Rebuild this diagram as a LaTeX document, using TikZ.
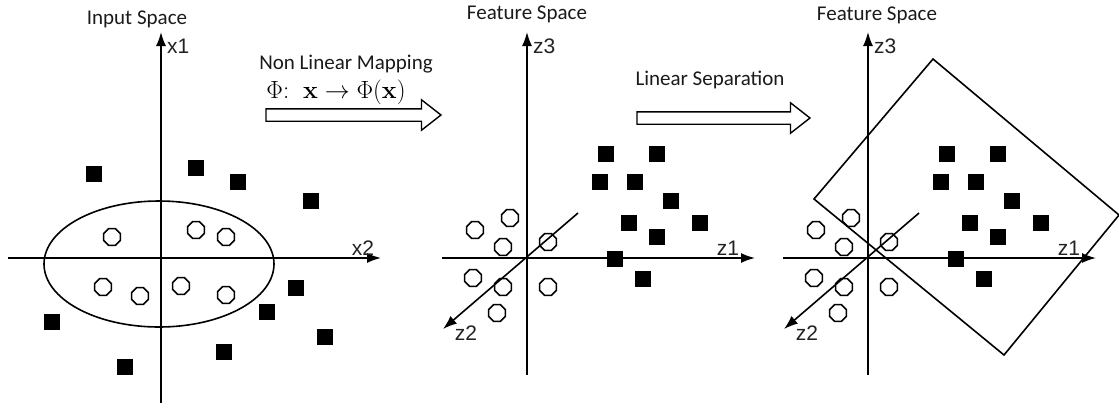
\documentclass[tikz,border=0pt]{standalone}
\usepackage[no-math]{fontspec}
\setmainfont{Carlito}
\newfontfamily\axisfont{Liberation Sans}
\usepackage{tikz}
\usetikzlibrary{shapes.geometric, shapes.arrows, arrows.meta, positioning}
\definecolor{svmtext}{HTML}{1A1A1A}
\definecolor{svmaxis}{HTML}{222222}

\begin{document}
\begin{tikzpicture}[
    x=1pt, y=-1pt,
    axis/.style={line width=1.6pt, draw=black, -{Latex[length=14pt, width=10pt]}},
    pointsq/.style={rectangle, fill=black, minimum size=16pt, inner sep=0pt},
    pointcirc/.style={regular polygon, regular polygon sides=8, draw=black, line width=1.5pt,
                      minimum size=18pt, inner sep=0pt},
    spacelabel/.style={font=\fontsize{21}{24}\selectfont, text=svmtext, inner sep=0pt},
    axislabel/.style={font=\axisfont\fontsize{21}{24}\selectfont, text=svmaxis, inner sep=0pt},
    maparrow/.style={single arrow, draw=black, line width=1.4pt, fill=white, inner xsep=0pt,
                     inner ysep=5.5pt, single arrow head extend=9pt, single arrow tip angle=76,
                     minimum height=#1},
]
\useasboundingbox (0,0) rectangle (1119,408);

% Input space
\coordinate (x1bot) at (161,403);
\coordinate (x1top) at (161,32);
\coordinate (x2left) at (8,258);
\coordinate (x2right) at (381,258);
\draw[axis] (x1bot) -- (x1top);
\draw[axis] (x2left) -- (x2right);
\node[axislabel, anchor=west] (lblx1) at (167,46) {x1};
\node[axislabel] (lblx2) at (363,248) {x2};
\node[spacelabel] (inputlbl) at (137,19) {Input Space};

\node[ellipse, draw=black, line width=1.6pt, minimum width=230pt, minimum height=126pt] (boundary) at (159,264) {};

\foreach \cx/\cy [count=\i] in {112/237, 196/230, 226/237, 103/287, 140/296, 181/286, 226/295}
    \node[pointcirc] (inc\i) at (\cx,\cy) {};
\foreach \sx/\sy [count=\i] in {94/174, 196/168, 238/182, 311/201, 296/288, 267/312, 325/337, 224/352, 125/367, 52/322}
    \node[pointsq] (insq\i) at (\sx,\sy) {};

% Mapping arrows
\node[spacelabel] (maplbl) at (346,64) {Non Linear Mapping};
\node[font=\fontsize{23}{25}\selectfont, inner sep=0pt] (phimap) at (336,92) {$\Phi{:}\;\;\mathbf{x}\rightarrow\Phi(\mathbf{x})$};
\node[maparrow=175pt] (maparrow1) at (349.5,115) {};
\node[spacelabel] (seplbl) at (710,80) {Linear Separation};
\node[maparrow=173pt] (maparrow2) at (719.5,118) {};

% Feature spaces (same points twice)
\foreach \px/\tag in {0/b, 341/c} {
  \begin{scope}[xshift=\px pt]
    \coordinate (z3bot\tag) at (527,375);
    \coordinate (z3top\tag) at (527,32);
    \coordinate (z1left\tag) at (442,258);
    \coordinate (z1right\tag) at (755,258);
    \coordinate (z2back\tag) at (578,213);
    \coordinate (z2front\tag) at (443,329);
    \draw[axis] (z3bot\tag) -- (z3top\tag);
    \draw[axis] (z1left\tag) -- (z1right\tag);
    \draw[axis] (z2back\tag) -- (z2front\tag);
    \node[axislabel, anchor=west] (lblz3\tag) at (533,46) {z3};
    \node[axislabel] (lblz1\tag) at (728,248) {z1};
    \node[axislabel] (lblz2\tag) at (466,333) {z2};
    \foreach \cx/\cy [count=\i] in {475/230, 510/218, 503/247, 548/242, 473/278, 503/287, 548/287, 497/313}
        \node[pointcirc] (fc\tag\i) at (\cx,\cy) {};
    \foreach \sx/\sy [count=\i] in {604/154, 655/154, 598/182, 633/182, 669/201, 627/223, 698/223, 655/237, 613/259, 641/279}
        \node[pointsq] (fsq\tag\i) at (\sx+1.5,\sy) {};
  \end{scope}
}
\node[spacelabel] (featlbl1) at (527,14) {Feature Space};
\node[spacelabel] (featlbl2) at (877,15) {Feature Space};

% Separating plane
\coordinate (sepT) at (933,59);
\coordinate (sepR) at (1119,215);
\coordinate (sepB) at (1004,355);
\coordinate (sepL) at (814,199);
\draw[line width=1.6pt] (sepT) -- (sepR) -- (sepB) -- (sepL) -- cycle;

\end{tikzpicture}
\end{document}
